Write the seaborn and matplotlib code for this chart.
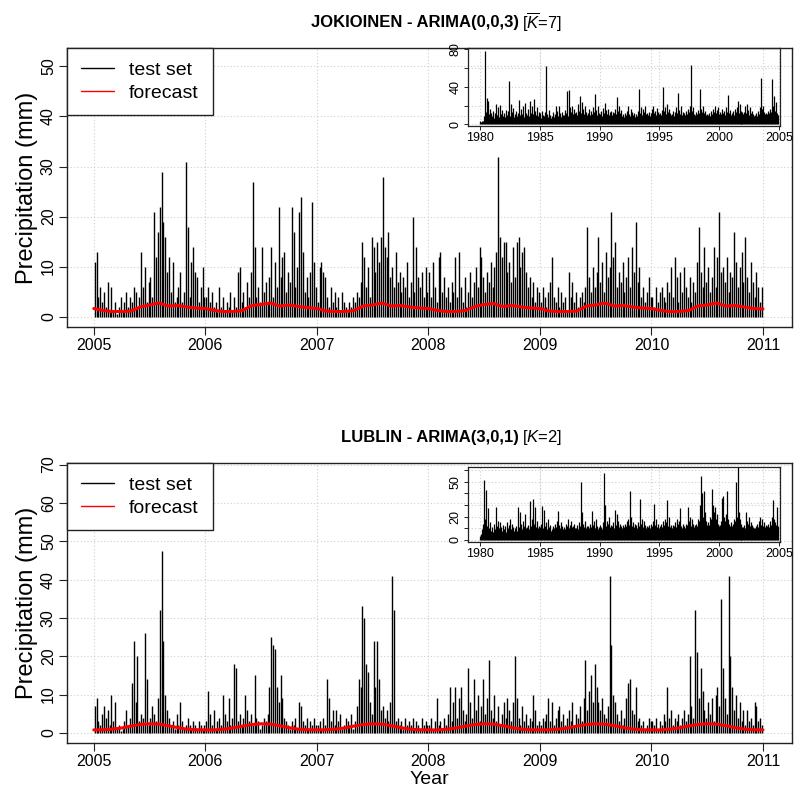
import numpy as np
import matplotlib
matplotlib.use("Agg")
import matplotlib.pyplot as plt
from matplotlib.lines import Line2D
import seaborn as sns

# ---- data (approximate) ----
test_years = [2005, 2006, 2007, 2008, 2009, 2010]
per_year = 60          # test values per year
train_start = 1980
per_year_train = 12    # training values per year (inset)

jok_test = [
    # 2005
    11, 13, 4, 6, 3, 5, 2, 7, 1, 6, 1, 3, 0.5, 2, 4, 1, 3, 5, 2, 4,
    3, 6, 5, 2, 4, 13, 6, 10, 3, 7, 8, 4, 21, 12, 17, 22, 29, 19, 16, 9,
    12, 5, 11, 3, 4, 6, 9, 3, 5, 31, 18, 4, 11, 14, 9, 8, 3, 6, 10, 4,
    # 2006
    4, 6, 3, 5, 2, 3, 1, 6, 2, 4, 1, 3, 2, 5, 1, 4, 2, 9, 10, 3,
    5, 2, 7, 4, 9, 27, 14, 4, 6, 3, 14, 5, 7, 3, 8, 14, 4, 11, 6, 22,
    8, 12, 13, 5, 9, 7, 22, 17, 6, 10, 21, 24, 13, 5, 8, 4, 9, 23, 11, 6,
    # 2007
    3, 10, 11, 9, 8, 4, 2, 6, 3, 5, 2, 4, 1, 5, 3, 2, 1, 3, 2, 4,
    3, 5, 4, 7, 15, 12, 6, 10, 4, 16, 14, 9, 15, 11, 16, 28, 14, 12, 17, 8,
    10, 6, 13, 7, 9, 5, 8, 6, 11, 4, 7, 20, 5, 14, 8, 6, 9, 4, 10, 5,
    # 2008
    9, 4, 11, 6, 3, 12, 13, 5, 8, 4, 6, 3, 7, 5, 12, 4, 13, 6, 3, 8,
    2, 5, 9, 4, 7, 10, 6, 14, 12, 8, 5, 9, 7, 11, 6, 10, 13, 32, 16, 12,
    15, 15, 9, 11, 7, 14, 8, 15, 16, 10, 13, 14, 9, 6, 8, 4, 7, 3, 6, 5,
    # 2009
    3, 6, 4, 2, 5, 7, 12, 4, 3, 6, 2, 5, 3, 4, 1, 9, 4, 7, 3, 5,
    2, 4, 5, 3, 6, 18, 8, 5, 10, 6, 9, 16, 7, 11, 5, 13, 8, 10, 21, 12,
    15, 6, 9, 7, 11, 5, 8, 12, 6, 14, 9, 19, 7, 10, 4, 6, 3, 5, 8, 4,
    # 2010
    4, 2, 6, 3, 5, 6, 4, 3, 7, 5, 10, 4, 12, 8, 3, 9, 5, 10, 6, 4,
    8, 3, 7, 5, 11, 18, 9, 6, 14, 7, 10, 5, 8, 14, 6, 12, 21, 9, 10, 7,
    12, 5, 9, 8, 17, 11, 6, 10, 13, 7, 16, 8, 5, 11, 7, 4, 9, 6, 3, 6,
]

lub_test = [
    # 2005
    7, 9, 3, 2, 5, 7, 4, 6, 2, 10, 3, 8, 1, 2, 0.5, 1, 3, 6, 2, 4,
    13, 24, 8, 20, 3, 5, 4, 26, 14, 2, 4, 7, 5, 3, 9, 32, 47.5, 24, 10, 6,
    4, 2, 3, 1, 5, 2, 8, 3, 1, 2, 4, 2, 1, 3, 2, 1, 3, 2, 1, 2,
    # 2006
    3, 11, 5, 2, 6, 1, 3, 4, 2, 10, 5, 3, 9, 2, 4, 18, 17, 3, 5, 2,
    4, 10, 6, 3, 5, 2, 15, 4, 3, 1, 2, 4, 3, 5, 12, 25, 23, 22, 12, 8,
    15, 9, 4, 3, 2, 1, 3, 2, 4, 1, 8, 7, 3, 2, 4, 1, 3, 2, 4, 2,
    # 2007
    2, 3, 1, 4, 2, 14, 9, 3, 6, 2, 6, 3, 5, 1, 2, 4, 3, 2, 5, 1,
    3, 7, 14, 12, 33, 30, 18, 16, 8, 5, 24, 12, 24, 14, 6, 7, 4, 6, 3, 8,
    41, 32, 3, 4, 2, 3, 1, 4, 2, 3, 2, 4, 1, 3, 2, 1, 4, 2, 3, 2,
    # 2008
    2, 4, 1, 3, 9, 2, 3, 1, 4, 2, 5, 12, 3, 8, 12, 4, 9, 12, 6, 3,
    5, 17, 8, 4, 14, 6, 10, 3, 7, 14, 5, 9, 19, 6, 4, 10, 3, 7, 2, 5,
    8, 4, 9, 6, 3, 8, 20, 9, 4, 2, 7, 3, 5, 2, 4, 3, 10, 6, 2, 3,
    # 2009
    2, 4, 3, 5, 9, 3, 8, 2, 4, 6, 7, 3, 5, 2, 4, 6, 3, 8, 2, 5,
    4, 7, 3, 9, 19, 6, 11, 15, 8, 18, 12, 8, 6, 9, 5, 4, 7, 41, 23, 10,
    8, 5, 3, 6, 2, 4, 9, 13, 14, 6, 5, 12, 3, 4, 2, 3, 1, 2, 4, 3,
    # 2010
    3, 2, 4, 1, 3, 2, 5, 3, 12, 4, 6, 2, 4, 3, 5, 2, 4, 6, 3, 5,
    20, 7, 4, 32, 21, 9, 17, 11, 6, 4, 8, 5, 9, 3, 10, 12, 7, 35, 17, 9,
    5, 41, 20, 12, 6, 10, 4, 8, 3, 6, 2, 6, 3, 4, 2, 8, 7, 3, 4, 2,
]

# monthly forecast values, Jan 2005 ... Jan 2011
jok_forecast = [
    1.6, 1.2, 1.0, 1.0, 1.1, 1.9, 2.3, 2.7, 2.1, 2.2, 1.9, 1.7,
    1.6, 1.2, 1.0, 1.0, 1.2, 2.2, 2.4, 2.7, 2.1, 2.3, 2.0, 1.8,
    1.6, 1.1, 1.0, 1.0, 1.2, 2.1, 2.3, 2.7, 2.1, 2.2, 1.9, 1.7,
    1.6, 1.2, 1.0, 1.0, 1.2, 2.0, 2.4, 2.6, 2.0, 2.2, 1.9, 1.7,
    1.6, 1.1, 1.0, 1.0, 1.1, 2.1, 2.3, 2.7, 2.1, 2.2, 1.9, 1.7,
    1.6, 1.2, 1.0, 1.0, 1.2, 2.1, 2.3, 2.7, 2.1, 2.2, 1.9, 1.6,
    1.5,
]
lub_forecast = [
    0.8, 0.85, 1.0, 1.3, 1.8, 2.2, 2.4, 2.3, 1.9, 1.4, 1.0, 0.85,
    0.8, 0.8, 1.0, 1.3, 1.8, 2.2, 2.4, 2.3, 1.9, 1.4, 1.0, 0.85,
    0.8, 0.85, 1.0, 1.3, 1.8, 2.2, 2.4, 2.3, 1.9, 1.4, 1.0, 0.85,
    0.8, 0.8, 1.0, 1.3, 1.8, 2.2, 2.4, 2.3, 1.9, 1.4, 1.0, 0.85,
    0.8, 0.85, 1.0, 1.3, 1.8, 2.2, 2.4, 2.3, 1.9, 1.4, 1.0, 0.85,
    0.8, 0.8, 1.0, 1.3, 1.8, 2.2, 2.4, 2.3, 1.9, 1.4, 1.0, 0.85,
    0.8,
]

# training series (inset), 12 values per year 1980-2004
jok_train = [
    3, 2, 4, 3, 9, 78, 13, 28, 25, 11, 16, 12,
    9, 14, 7, 12, 22, 10, 18, 8, 21, 11, 15, 9,
    12, 8, 15, 10, 14, 46, 9, 22, 13, 17, 8, 11,
    14, 9, 12, 26, 10, 16, 11, 19, 8, 23, 12, 10,
    16, 9, 25, 12, 20, 11, 27, 14, 10, 18, 9, 13,
    12, 7, 14, 10, 9, 13, 62, 11, 8, 15, 10, 7,
    9, 13, 8, 11, 20, 14, 9, 20, 12, 8, 13, 10,
    10, 15, 12, 35, 9, 37, 18, 13, 20, 11, 16, 12,
    13, 10, 22, 14, 30, 12, 24, 16, 11, 19, 13, 10,
    12, 16, 10, 14, 11, 18, 13, 32, 15, 10, 20, 12,
    11, 14, 9, 17, 12, 23, 15, 11, 16, 10, 13, 14,
    10, 13, 12, 16, 11, 29, 14, 20, 12, 15, 9, 11,
    8, 12, 10, 14, 20, 11, 9, 16, 13, 10, 12, 8,
    11, 9, 14, 38, 12, 18, 10, 16, 13, 20, 11, 12,
    10, 13, 9, 12, 16, 20, 12, 14, 10, 17, 13, 11,
    12, 10, 15, 40, 14, 18, 11, 22, 13, 16, 12, 10,
    11, 14, 9, 13, 18, 12, 33, 15, 11, 20, 10, 13,
    12, 10, 14, 11, 16, 13, 20, 63, 14, 18, 11, 10,
    13, 11, 15, 12, 38, 16, 13, 20, 12, 14, 10, 11,
    10, 12, 9, 14, 11, 16, 13, 20, 12, 15, 18, 11,
    13, 11, 16, 12, 14, 10, 18, 13, 31, 12, 15, 10,
    12, 14, 10, 16, 13, 18, 25, 12, 22, 14, 11, 13,
    11, 13, 20, 12, 22, 15, 10, 18, 12, 14, 11, 9,
    10, 12, 9, 14, 11, 18, 49, 16, 20, 13, 11, 12,
    11, 14, 12, 16, 13, 48, 20, 30, 14, 24, 12, 10,
]
lub_train = [
    3, 5, 9, 14, 51, 18, 43, 12, 27, 10, 15, 8,
    11, 7, 14, 9, 28, 12, 16, 10, 15, 11, 8, 13,
    9, 12, 7, 15, 10, 13, 18, 9, 14, 11, 8, 10,
    12, 8, 28, 11, 24, 14, 9, 16, 12, 22, 10, 11,
    13, 9, 33, 12, 18, 35, 14, 28, 11, 16, 10, 12,
    11, 14, 29, 10, 26, 12, 15, 9, 18, 11, 13, 8,
    9, 12, 10, 14, 11, 16, 25, 13, 10, 15, 12, 9,
    11, 9, 14, 12, 18, 10, 13, 16, 11, 12, 14, 10,
    10, 13, 9, 15, 12, 50, 24, 14, 11, 16, 10, 12,
    12, 10, 14, 11, 25, 13, 16, 10, 18, 12, 9, 11,
    13, 11, 9, 15, 57, 30, 12, 16, 14, 20, 11, 13,
    12, 15, 10, 26, 13, 22, 16, 11, 14, 12, 10, 13,
    11, 14, 12, 16, 18, 13, 42, 20, 12, 15, 11, 14,
    13, 10, 15, 12, 35, 14, 18, 11, 16, 13, 10, 12,
    11, 13, 10, 14, 12, 16, 31, 13, 18, 11, 14, 10,
    12, 14, 11, 16, 13, 18, 15, 34, 12, 20, 11, 13,
    10, 13, 12, 15, 11, 18, 14, 16, 27, 12, 10, 14,
    12, 10, 14, 13, 28, 16, 20, 12, 18, 14, 11, 13,
    14, 12, 18, 16, 30, 55, 40, 20, 42, 24, 16, 13,
    15, 13, 20, 18, 44, 30, 24, 28, 18, 22, 14, 12,
    13, 16, 36, 38, 20, 16, 22, 42, 18, 14, 12, 15,
    12, 14, 18, 16, 50, 20, 63, 24, 18, 14, 12, 11,
    11, 13, 10, 24, 16, 14, 20, 12, 15, 13, 11, 10,
    10, 12, 14, 11, 16, 20, 13, 18, 12, 15, 11, 13,
    12, 14, 11, 16, 13, 20, 34, 18, 15, 13, 28, 12,
]

# ---- style ----
sns.set_style("ticks")
plt.rcParams['font.family'] = ['Liberation Sans', 'DejaVu Sans']
plt.rcParams['mathtext.fontset'] = 'custom'
plt.rcParams['mathtext.rm'] = 'Liberation Sans'
plt.rcParams['mathtext.it'] = 'Liberation Sans:italic'
plt.rcParams['text.color'] = 'black'
plt.rcParams['axes.labelcolor'] = 'black'
plt.rcParams['xtick.color'] = 'black'
plt.rcParams['ytick.color'] = 'black'

grid_kw = dict(color='#cfcfcf', linestyle=(0, (1, 2)), linewidth=0.8)

test_x = np.concatenate([y + (np.arange(per_year) + 0.5) / per_year for y in test_years])
fc_x = test_years[0] + np.arange(len(jok_forecast)) / 12.0
train_x = train_start + (np.arange(len(jok_train)) + 0.5) / per_year_train


def style_box(ax, lw=1.0):
    for s in ax.spines.values():
        s.set_visible(True)
        s.set_color('#222222')
        s.set_linewidth(lw)


def main_panel(ax, test, fc, ylim, yticks):
    ax.set_axisbelow(True)
    ax.grid(True, **grid_kw)
    ax.vlines(test_x, 0, test, color='black', lw=1.0)
    sns.lineplot(x=fc_x, y=fc, ax=ax, color='red', lw=2.2)
    ax.set_xlim(2004.76, 2011.26)
    ax.set_ylim(*ylim)
    ax.set_xticks(range(2005, 2012))
    ax.set_yticks(yticks)
    ax.tick_params(axis='both', labelsize=11.5, length=6, width=0.8,
                   color='#222222', pad=2)
    ax.tick_params(axis='y', labelrotation=90)
    for lbl in ax.get_yticklabels():
        lbl.set_va('center')
    ax.set_ylabel('Precipitation (mm)', fontsize=17)
    ax.yaxis.set_label_coords(-0.040, 0.5)
    style_box(ax)
    handles = [Line2D([], [], color='black', lw=1),
               Line2D([], [], color='red', lw=1)]
    leg = ax.legend(handles, ['test set', 'forecast'], loc='upper left',
                    bbox_to_anchor=(0, 1), borderaxespad=0, fontsize=14,
                    fancybox=False, framealpha=1, edgecolor='#222222',
                    handlelength=1.7, handletextpad=0.8, borderpad=0.7,
                    labelspacing=0.25)
    leg.get_frame().set_linewidth(1.0)


def inset_panel(ax, train, ylim, yticks, ylabels):
    ax.set_facecolor('none')
    ax.set_axisbelow(True)
    ax.grid(True, **grid_kw)
    ax.vlines(train_x, 0, train, color='black', lw=0.9)
    ax.set_xlim(1979.0, 2005.1)
    ax.set_ylim(*ylim)
    ax.set_xticks(range(1980, 2006, 5))
    ax.set_yticks(yticks)
    ax.set_yticklabels(ylabels)
    ax.tick_params(axis='both', labelsize=9, length=3, width=0.7,
                   color='#222222', pad=1.5)
    ax.tick_params(axis='y', labelrotation=90)
    for lbl in ax.get_yticklabels():
        lbl.set_va('center')
    style_box(ax, 0.9)


fig = plt.figure(figsize=(7.95, 7.88), dpi=100)
ax1 = fig.add_axes([0.0843, 0.5850, 0.9119, 0.3541])
ax2 = fig.add_axes([0.0843, 0.0567, 0.9119, 0.3557])
in1 = fig.add_axes([0.5887, 0.8401, 0.3925, 0.0986])
in2 = fig.add_axes([0.5887, 0.3122, 0.3925, 0.0952])

main_panel(ax1, jok_test, jok_forecast, (-2.1, 53.7), range(0, 51, 10))
main_panel(ax2, lub_test, lub_forecast, (-2.7, 70.4), range(0, 71, 10))
ax2.set_xlabel('Year', fontsize=14, labelpad=1)

inset_panel(in1, jok_train, (-1.8, 80.9), [0, 20, 40, 60, 80],
            ['0', '', '40', '', '80'])
inset_panel(in2, lub_train, (-1.7, 62.5), [0, 10, 20, 30, 40, 50, 60],
            ['0', '', '20', '', '', '50', ''])

# titles: bold part + normal part
fig.text(0.653, 0.972, 'JOKIOINEN - ARIMA(0,0,3)', ha='right', va='center',
         fontsize=12, fontweight='bold')
fig.text(0.657, 0.972, r'[$\overline{K}$=7]', ha='left', va='center', fontsize=12)
fig.text(0.653, 0.4442, 'LUBLIN - ARIMA(3,0,1)', ha='right', va='center',
         fontsize=12, fontweight='bold')
fig.text(0.657, 0.4442, r'[$K$=2]', ha='left', va='center', fontsize=12)

plt.savefig("out.png", dpi=100)
